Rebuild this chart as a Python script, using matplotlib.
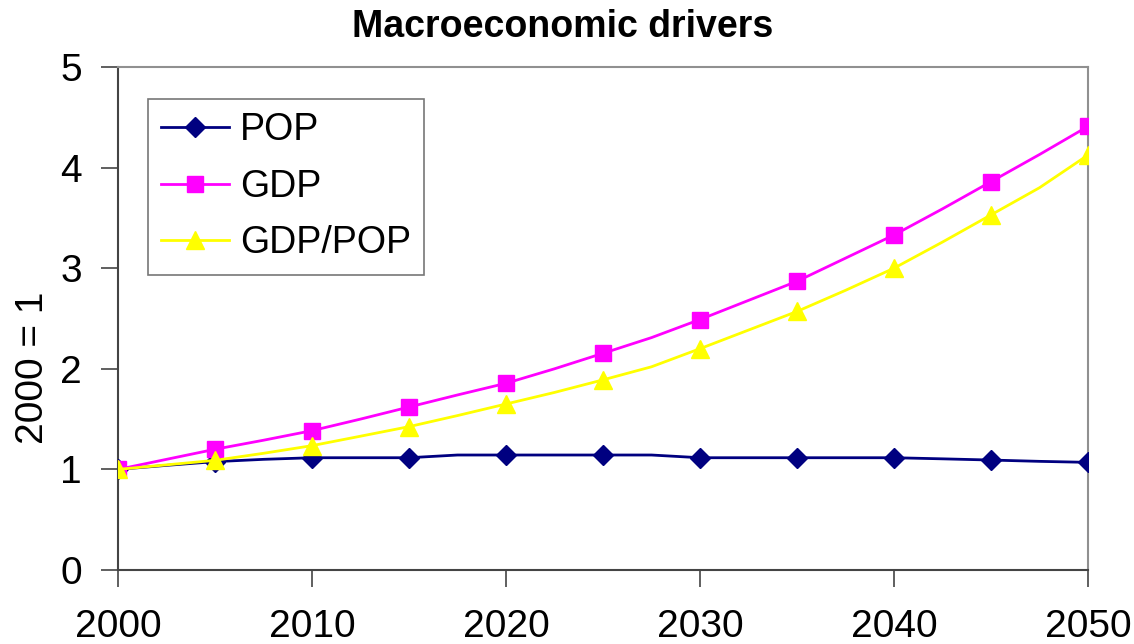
import matplotlib.pyplot as plt
import numpy as np

# data (values every 2.5 years, markers every 5 years)
years = [2000, 2002.5, 2005, 2007.5, 2010, 2012.5, 2015, 2017.5, 2020, 2022.5, 2025,
         2027.5, 2030, 2032.5, 2035, 2037.5, 2040, 2042.5, 2045, 2047.5, 2050]
pop = [1.00, 1.04, 1.077, 1.10, 1.116, 1.116, 1.116, 1.143, 1.143, 1.143, 1.143,
       1.143, 1.116, 1.116, 1.116, 1.116, 1.116, 1.105, 1.093, 1.08, 1.07]
gdp = [1.00, 1.10, 1.20, 1.29, 1.385, 1.50, 1.62, 1.74, 1.856, 2.00, 2.154,
       2.31, 2.49, 2.68, 2.87, 3.10, 3.33, 3.59, 3.86, 4.13, 4.41]
gdp_pop = [1.00, 1.045, 1.09, 1.16, 1.236, 1.33, 1.425, 1.535, 1.65, 1.765, 1.89,
           2.02, 2.20, 2.385, 2.57, 2.78, 3.00, 3.26, 3.53, 3.80, 4.125]

plt.rcParams['font.family'] = ['Liberation Sans', 'DejaVu Sans']

fig = plt.figure(figsize=(11.34, 6.44), dpi=100)
ax = fig.add_axes([118 / 1134, 74 / 644, 970 / 1134, 503 / 644])

ax.plot(years, pop, color='#000080', lw=2, marker='D', ms=10, markevery=2, label='POP', zorder=3)
ax.plot(years, gdp, color='#FF00FF', lw=2, marker='s', ms=12, markevery=2, label='GDP', zorder=4)
ax.plot(years, gdp_pop, color='#FFFF00', lw=2, marker='^', ms=13, markevery=2, label='GDP/POP', zorder=5)

ax.set_xlim(2000, 2050)
ax.set_ylim(0, 5)
ax.set_xticks(np.arange(2000, 2051, 10))
ax.set_yticks(range(0, 6))
ax.tick_params(axis='x', direction='out', length=12, width=1.2, pad=16, labelsize=28, color='#444444')
ax.tick_params(axis='y', direction='out', length=12, width=1.2, pad=14, labelsize=28, color='#444444')

for side in ['left', 'bottom']:
    ax.spines[side].set_color('#444444')
    ax.spines[side].set_linewidth(1.5)
for side in ['top', 'right']:
    ax.spines[side].set_color('#909090')
    ax.spines[side].set_linewidth(1.5)

fig.text(33 / 1134, 1 - 368 / 644, '2000 = 1', rotation=90, ha='center', va='center', fontsize=28)
fig.text(563 / 1134, 1 - 27 / 644, 'Macroeconomic drivers', ha='center', va='center',
         fontsize=27, fontweight='bold')

leg = ax.legend(loc='upper left', bbox_to_anchor=(30 / 970, 1 - 32 / 503), fontsize=27,
                frameon=True, fancybox=False, edgecolor='#555555', borderpad=0.35,
                handlelength=1.8, handletextpad=0.3, labelspacing=0.55, borderaxespad=0)
leg.get_frame().set_linewidth(1.2)

fig.savefig('out.png', dpi=100)
